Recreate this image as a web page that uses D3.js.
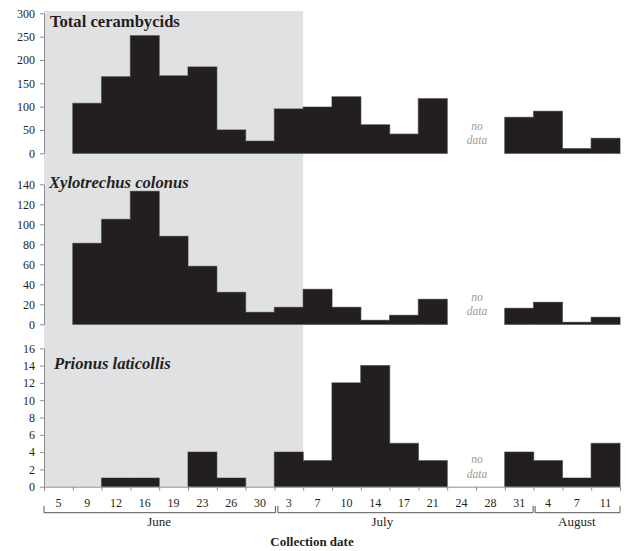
<!DOCTYPE html>
<html>
<head>
<meta charset="utf-8">
<script src="https://cdn.jsdelivr.net/npm/d3@7"></script>
<style>
  html, body { margin: 0; padding: 0; background: #fff; }
  svg { display: block; }
</style>
</head>
<body>
<svg id="chart" width="629" height="551"></svg>
<script>
// Collection dates (one trap check per interval) and their day labels
const categories = ["Jun 5","Jun 9","Jun 12","Jun 16","Jun 19","Jun 23","Jun 26","Jun 30",
                    "Jul 3","Jul 7","Jul 10","Jul 14","Jul 17","Jul 21","Jul 24","Jul 28","Jul 31",
                    "Aug 4","Aug 7","Aug 11"];
const dayLabels = ["5","9","12","16","19","23","26","30","3","7","10","14","17","21","24","28","31","4","7","11"];

// Beetle counts per collection; null = no data
const totalCerambycids = [0,107,164,252,166,185,50,26,95,99,121,61,41,117,null,null,77,90,10,32];
const xylotrechusColonus = [0,81,105,133,88,58,32,12,17,35,17,4,9,25,null,null,16,22,2,7];
const prionusLaticollis = [0,0,1,1,0,4,1,0,4,3,12,14,5,3,null,null,4,3,1,5];

const yTicksTotal = [0,50,100,150,200,250,300];
const yTicksXylo = [0,20,40,60,80,100,120,140];
const yTicksPrionus = [0,2,4,6,8,10,12,14,16];

const monthNames = ["June","July","August"];
const monthStart = [0, 8, 17];
const monthEnd = [8, 17, 20];
const shadedUntil = 9; // shaded period covers the first nine collections

// ---- layout ----
const FONT = '"Liberation Serif", "Times New Roman", serif';
const INK = "#231f20";
const svg = d3.select("#chart");
const left = 44, right = 620;
const barColor = "#231f20";
const axisColor = "#8e8e8e";

const x = d3.scaleBand().domain(categories).range([left, right]).paddingInner(0).paddingOuter(0);
const xi = d3.scaleLinear().domain([0, categories.length]).range([left, right]);

const panels = [
  { title: "Total cerambycids", italic: false, values: totalCerambycids, ticks: yTicksTotal,
    y: d3.scaleLinear().domain([0, 300]).range([153.3, 13.3]), tx: 50, ty: 26.5 },
  { title: "Xylotrechus colonus", italic: true, values: xylotrechusColonus, ticks: yTicksXylo,
    y: d3.scaleLinear().domain([0, 140]).range([324.3, 184.3]), tx: 49, ty: 187.5 },
  { title: "Prionus laticollis", italic: true, values: prionusLaticollis, ticks: yTicksPrionus,
    y: d3.scaleLinear().domain([0, 16]).range([486.7, 348.3]), tx: 54, ty: 368.5 }
];

// shaded period behind all three panels
svg.append("rect")
  .attr("x", xi(0)).attr("y", 11)
  .attr("width", xi(shadedUntil) - xi(0))
  .attr("height", panels[2].y(0) - 11)
  .attr("fill", "#e0e1e3");

panels.forEach(p => {
  const g = svg.append("g");
  const y = p.y;

  // y axis
  const ax = g.append("g")
    .attr("transform", `translate(${left},0)`)
    .call(d3.axisLeft(y).tickValues(p.ticks).tickSize(4).tickPadding(5).tickSizeOuter(0));
  ax.select(".domain").attr("stroke", axisColor);
  ax.selectAll(".tick line").attr("stroke", axisColor);
  ax.selectAll(".tick text")
    .style("font-family", FONT)
    .style("font-size", "12px").style("fill", INK);

  // grey outline of each contiguous run of bars
  const runs = [];
  let cur = null;
  p.values.forEach((v, i) => {
    if (v != null && v > 0) {
      if (!cur) { cur = []; runs.push(cur); }
      cur.push(i);
    } else cur = null;
  });
  runs.forEach(run => {
    const path = d3.path();
    path.moveTo(xi(run[0]), y(0));
    run.forEach(i => {
      path.lineTo(xi(i), y(p.values[i]));
      path.lineTo(xi(i + 1), y(p.values[i]));
    });
    path.lineTo(xi(run[run.length - 1] + 1), y(0));
    path.closePath();
    g.append("path").attr("d", path.toString())
      .attr("fill", barColor).attr("stroke", "#8a8a8a").attr("stroke-width", 1.3)
      .attr("stroke-linejoin", "miter");
  });

  // bars
  g.selectAll("rect.bar")
    .data(categories.map((c, i) => ({ c, v: p.values[i] })).filter(d => d.v != null && d.v > 0))
    .join("rect")
    .attr("class", "bar")
    .attr("x", d => x(d.c))
    .attr("width", x.bandwidth())
    .attr("y", d => y(d.v))
    .attr("height", d => y(0) - y(d.v))
    .attr("fill", barColor);

  // "no data" note across the missing collections
  const missing = p.values.map((v, i) => v == null ? i : -1).filter(i => i >= 0);
  const mx = (xi(missing[0]) + xi(missing[missing.length - 1] + 1)) / 2 + 1;
  const nd = g.append("text")
    .attr("text-anchor", "middle")
    .style("font-family", FONT)
    .style("font-style", "italic").style("font-size", "11.5px")
    .style("fill", "#9a9a9a");
  nd.append("tspan").attr("x", mx).attr("y", y(0) - 23.5).text("no");
  nd.append("tspan").attr("x", mx).attr("y", y(0) - 9).text("data");

  // panel title
  g.append("text")
    .attr("x", p.tx).attr("y", p.ty)
    .style("font-family", FONT)
    .style("font-weight", "bold")
    .style("font-style", p.italic ? "italic" : "normal")
    .style("font-size", "16.6px")
    .style("fill", INK)
    .text(p.title);
});

// x axis on the bottom panel
const y0 = panels[2].y(0);
const xa = svg.append("g")
  .attr("transform", `translate(0,${y0})`)
  .call(d3.axisBottom(xi).tickValues(d3.range(categories.length + 1)).tickSize(4).tickFormat(""));
xa.select(".domain").attr("stroke", axisColor);
xa.selectAll(".tick line").attr("stroke", axisColor);

const xl = svg.append("g")
  .attr("transform", `translate(0,${y0})`)
  .call(d3.axisBottom(x).tickSize(0).tickPadding(12).tickFormat((d, i) => dayLabels[i]));
xl.select(".domain").remove();
xl.selectAll(".tick text")
  .style("font-family", FONT)
  .style("font-size", "12px").style("fill", INK);

// month brackets
const by = 512.7, bTop = 506;
const monthLabelAt = [4, 11.75, 18.5];
monthNames.forEach((m, k) => {
  const a = xi(monthStart[k]) + (k === 0 ? 0 : (k === 1 ? 3.5 : 1.5));
  const b = xi(monthEnd[k]) + (k === 0 ? 1 : (k === 1 ? -0.5 : 0));
  svg.append("path")
    .attr("d", `M${a},${bTop}V${by}H${b}V${bTop}`)
    .attr("fill", "none").attr("stroke", "#555").attr("stroke-width", 1);
  svg.append("text")
    .attr("x", xi(monthLabelAt[k])).attr("y", 526)
    .attr("text-anchor", "middle")
    .style("font-family", FONT).style("font-size", "13px").style("fill", INK)
    .text(m);
});

// axis title
svg.append("text")
  .attr("x", 312).attr("y", 545.5)
  .attr("text-anchor", "middle")
  .style("font-family", FONT)
  .style("font-weight", "bold").style("font-size", "13px").style("fill", INK)
  .text("Collection date");
</script>
</body>
</html>
